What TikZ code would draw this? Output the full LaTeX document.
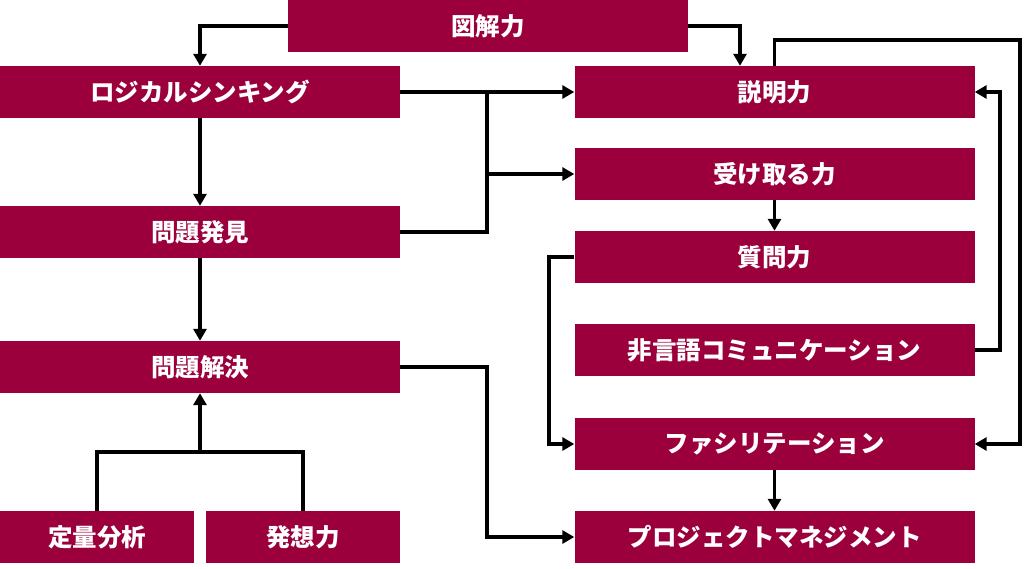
\documentclass[tikz,border=0pt]{standalone}
\usepackage{fontspec}
\setmainfont{Noto Sans CJK JP}
\usetikzlibrary{arrows.meta}
\definecolor{weinrot}{RGB}{155,0,61}

\tikzset{
	box/.style={fill=weinrot, text=white, inner sep=0pt, minimum height=52pt, minimum width=400pt, font=\fontsize{24.5}{28}\selectfont\bfseries},
	smallbox/.style={box, minimum width=194pt},
	pfeil/.style={line width=3.4pt, -{Triangle[length=12pt,width=13pt]}},
	linie/.style={line width=3.4pt}
}

\begin{document}
\begin{tikzpicture}[x=1pt, y=-1pt]

	\useasboundingbox (0,0) rectangle (1024,568);

	% linke Spalte
	\node[box] (zukai) at (488,26) {図解力};
	\node[box] (logik) at (200,92) {ロジカルシンキング};
	\node[box] (hakken) at (200,232) {問題発見};
	\node[box] (kaiketsu) at (200,367) {問題解決};
	\node[smallbox] (teiryo) at (97,537) {定量分析};
	\node[smallbox] (hasso) at (303,537) {発想力};

	% rechte Spalte
	\node[box] (setsumei) at (774.5,92) {説明力};
	\node[box] (uketoru) at (774.5,174) {受け取る力};
	\node[box] (shitsumon) at (774.5,257) {質問力};
	\node[box] (higengo) at (774.5,350) {非言語コミュニケーション};
	\node[box] (facili) at (774.5,444) {ファシリテーション};
	\node[box] (pm) at (774.5,537) {プロジェクトマネジメント};

	\coordinate (mitte) at (487,0);
	\coordinate (unten) at (200,452);
	\coordinate (rechtsaussen) at (1020,40);
	\coordinate (rechtsinnen) at (1000,0);
	\coordinate (linksinnen) at (549,0);

	\draw[pfeil] (zukai.west) -| (logik.north);
	\draw[pfeil] (zukai.east) -| ([xshift=-34.5pt]setsumei.north);

	\foreach \a/\b in {logik/hakken, hakken/kaiketsu, uketoru/shitsumon, facili/pm}
		\draw[pfeil] (\a.south) -- (\b.north);

	\draw[pfeil] (logik.east) -- (setsumei.west);
	\draw[linie] (hakken.east) -| (mitte |- logik.east);
	\draw[pfeil] (mitte |- uketoru.west) -- (uketoru.west);
	\draw[pfeil] (kaiketsu.east) -| (mitte |- pm.west) -- (pm.west);

	\draw[linie] (teiryo.north) |- (unten) -| (hasso.north);
	\draw[pfeil] (unten) -- (kaiketsu.south);

	\draw[pfeil] (setsumei.north) |- (rechtsaussen) |- (facili.east);
	\draw[pfeil] (higengo.east) -| (rechtsinnen |- setsumei.east) -- (setsumei.east);
	\draw[pfeil] (shitsumon.west) -| (linksinnen |- facili.west) -- (facili.west);

\end{tikzpicture}
\end{document}
